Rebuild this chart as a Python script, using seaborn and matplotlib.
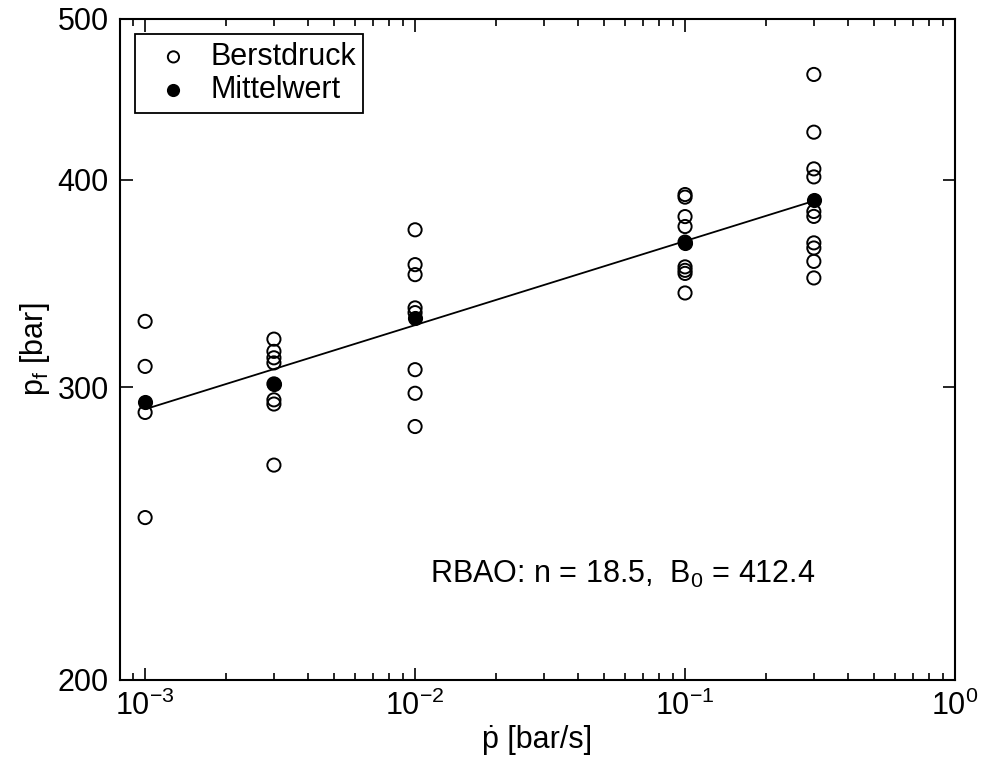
import matplotlib

matplotlib.use("Agg")
import matplotlib.pyplot as plt
import numpy as np
import pandas as pd
import seaborn as sns
from matplotlib.ticker import FixedLocator, FixedFormatter, LogLocator, NullLocator

# burst pressure tests at each loading rate
rate_levels = [1e-3, 3e-3, 1e-2, 1e-1, 3e-1]
burst_1e3 = [328.8, 308.9, 289.8, 250.5]
burst_3e3 = [320.8, 315.4, 312.6, 310.4, 301.5, 294.9, 293.2, 269.4]
burst_1e2 = [373.3, 355.7, 350.8, 335.0, 332.8, 307.5, 297.6, 284.2]
burst_1e1 = [392.0, 390.6, 380.2, 375.0, 367.0, 354.6, 352.9, 351.4, 342.0]
burst_3e1 = [463.0, 427.4, 406.2, 401.7, 382.9, 380.3, 366.6, 364.0, 357.3, 349.2]
mean_values = [294.2, 301.6, 330.5, 366.6, 389.2]

y_ticks = [200, 300, 400, 500]
annotation = "RBAO: n = 18.5,  B$_0$ = 412.4"


def main():
    sns.set_style("white")
    plt.rcParams["font.family"] = ["Liberation Sans", "DejaVu Sans"]
    plt.rcParams["mathtext.fontset"] = "custom"
    plt.rcParams["mathtext.rm"] = "Liberation Sans"
    plt.rcParams["mathtext.it"] = "Liberation Sans"
    for key in ["text.color", "axes.labelcolor", "xtick.color", "ytick.color"]:
        plt.rcParams[key] = "black"

    groups = [burst_1e3, burst_3e3, burst_1e2, burst_1e1, burst_3e1]
    burst = pd.DataFrame(
        [(r, p) for r, vals in zip(rate_levels, groups) for p in vals],
        columns=["rate", "p"],
    )
    means = pd.DataFrame({"rate": rate_levels, "p": mean_values})

    # power-law fit through the means
    k, c = np.polyfit(np.log10(rate_levels), np.log10(mean_values), 1)
    fit = pd.DataFrame({"rate": [rate_levels[0], rate_levels[-1]]})
    fit["p"] = 10 ** (c + k * np.log10(fit["rate"]))

    fig = plt.figure(figsize=(9.81, 7.6), dpi=100)
    ax = fig.add_axes([0.1223, 0.1053, 0.8512, 0.8697])

    sns.lineplot(data=fit, x="rate", y="p", color="black", lw=1.3, ax=ax,
                 legend=False, zorder=2)
    sns.scatterplot(data=burst, x="rate", y="p", marker="o", s=90,
                    facecolor="none", edgecolor="black", linewidth=1.4,
                    ax=ax, label="Berstdruck", zorder=3)
    sns.scatterplot(data=means, x="rate", y="p", marker="o", s=90,
                    color="black", edgecolor="black", linewidth=1.4,
                    ax=ax, label="Mittelwert", zorder=4)

    ax.set_xscale("log")
    ax.set_yscale("log")
    ax.set_xlim(8.07e-4, 1)
    ax.set_ylim(200, 500)
    ax.xaxis.set_major_locator(LogLocator(base=10, numticks=10))
    ax.xaxis.set_minor_locator(LogLocator(base=10, subs=np.arange(2, 10), numticks=20))
    ax.yaxis.set_major_locator(FixedLocator(y_ticks))
    ax.yaxis.set_major_formatter(FixedFormatter([str(t) for t in y_ticks]))
    ax.yaxis.set_minor_locator(NullLocator())

    ax.tick_params(which="both", direction="in", top=True, right=True,
                   bottom=True, left=True, labelsize=22, width=1.2)
    ax.tick_params(which="major", length=9, pad=8)
    ax.tick_params(which="minor", length=5)
    for s in ax.spines.values():
        s.set_linewidth(1.5)
        s.set_color("black")

    ax.set_xlabel("ṗ [bar/s]", fontsize=22, labelpad=2)
    ax.set_ylabel("p$_f$ [bar]", fontsize=22, labelpad=4)

    ax.text(0.0114, 231.4, annotation, fontsize=22, va="center", ha="left")

    leg = ax.legend(loc="upper left", fontsize=22, frameon=True, fancybox=False,
                    edgecolor="black", framealpha=1, handletextpad=0.2,
                    borderpad=0.25, labelspacing=0.1, borderaxespad=0.5,
                    handlelength=2.0, markerscale=0.85)
    leg.get_frame().set_linewidth(1.3)

    fig.savefig("out.png", dpi=100)


if __name__ == "__main__":
    main()
